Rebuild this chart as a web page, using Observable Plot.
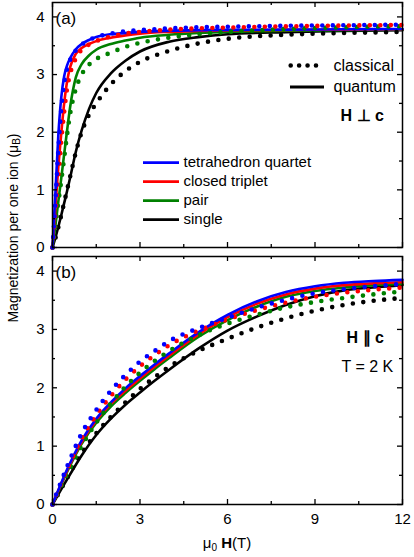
<!DOCTYPE html>
<html>
<head>
<meta charset="utf-8">
<script src="https://cdn.jsdelivr.net/npm/d3@7"></script>
<script src="https://cdn.jsdelivr.net/npm/@observablehq/plot@0.6"></script>
<style>
  html, body { margin: 0; padding: 0; background: #fff; }
  body { font-family: "Liberation Sans", Arial, sans-serif; }
  #wrap { position: relative; width: 414px; height: 557px; overflow: hidden; }
  #wrap svg { display: block; font-family: "Liberation Sans", Arial, sans-serif; }
  #ylab { position: absolute; left: 13px; top: 228px; transform: translate(-50%, -50%) rotate(-90deg);
          white-space: nowrap; font-size: 14px; color: #000; }
  #ylab sub { font-size: 10px; vertical-align: -2px; }
</style>
</head>
<body>
<div id="wrap"><div id="ylab">Magnetization per one ion (μ<sub>B</sub>)</div></div>
<script>
// ---------- data ----------
const seriesNames  = ["tetrahedron quartet", "closed triplet", "pair", "single"];
const seriesColors = ["#0000ff", "#ff0000", "#008000", "#000000"];

// Panel (a): H ⊥ c
const Ha       = [0, 0.1, 0.2, 0.3, 0.4, 0.5, 0.6, 0.8, 1.0, 1.25, 1.5, 2, 2.5, 3, 4, 5, 6, 8, 10, 12];
const aBlueQ   = [0, 0.95, 1.95, 2.6, 2.97, 3.16, 3.28, 3.44, 3.53, 3.6, 3.65, 3.7, 3.72, 3.74, 3.76, 3.77, 3.775, 3.78, 3.785, 3.79];
const aRedQ    = [0, 0.7, 1.4, 1.98, 2.5, 2.88, 3.12, 3.36, 3.46, 3.53, 3.58, 3.64, 3.68, 3.71, 3.74, 3.755, 3.765, 3.775, 3.78, 3.785];
const aGreenQ  = [0, 0.38, 0.8, 1.2, 1.62, 2.03, 2.42, 2.95, 3.18, 3.33, 3.43, 3.53, 3.59, 3.64, 3.69, 3.72, 3.74, 3.76, 3.77, 3.78];
const aBlackQ  = [0, 0.17, 0.36, 0.56, 0.77, 0.98, 1.2, 1.66, 2.03, 2.4, 2.68, 3.02, 3.24, 3.4, 3.57, 3.65, 3.7, 3.735, 3.755, 3.77];
const aBlueC   = [0, 0.8, 1.7, 2.4, 2.85, 3.1, 3.25, 3.42, 3.52, 3.6, 3.65, 3.71, 3.75, 3.77, 3.8, 3.82, 3.83, 3.845, 3.855, 3.865];
const aRedC    = [0, 0.6, 1.25, 1.85, 2.35, 2.75, 3.0, 3.28, 3.43, 3.52, 3.58, 3.66, 3.71, 3.74, 3.78, 3.8, 3.815, 3.835, 3.85, 3.86];
const aGreenC  = [0, 0.38, 0.78, 1.15, 1.55, 1.95, 2.3, 2.75, 3.0, 3.17, 3.27, 3.38, 3.48, 3.55, 3.64, 3.7, 3.74, 3.79, 3.82, 3.84];
const aBlackC  = [0, 0.16, 0.35, 0.56, 0.78, 1.0, 1.22, 1.65, 2.0, 2.3, 2.5, 2.83, 3.06, 3.22, 3.41, 3.54, 3.62, 3.69, 3.72, 3.74];

// Panel (b): H ∥ c, T = 2 K
const Hb       = [0, 0.5, 1, 1.5, 2, 2.5, 3, 3.5, 4, 5, 6, 7, 8, 9, 10, 11, 12];
const bBlueQ   = [0, 0.6, 1.1, 1.47, 1.75, 1.99, 2.2, 2.4, 2.59, 2.95, 3.25, 3.48, 3.64, 3.74, 3.8, 3.83, 3.85];
const bRedQ    = [0, 0.58, 1.07, 1.44, 1.72, 1.95, 2.16, 2.36, 2.55, 2.91, 3.21, 3.44, 3.6, 3.7, 3.76, 3.79, 3.81];
const bGreenQ  = [0, 0.56, 1.04, 1.4, 1.68, 1.91, 2.12, 2.32, 2.51, 2.87, 3.16, 3.39, 3.56, 3.66, 3.72, 3.76, 3.78];
const bBlackQ  = [0, 0.43, 0.84, 1.19, 1.47, 1.71, 1.92, 2.12, 2.31, 2.67, 2.98, 3.22, 3.42, 3.57, 3.67, 3.72, 3.76];
const bBlueC   = [0, 0.65, 1.22, 1.62, 1.95, 2.22, 2.45, 2.63, 2.8, 3.02, 3.2, 3.37, 3.51, 3.62, 3.69, 3.74, 3.78];
const bRedC    = [0, 0.6, 1.13, 1.53, 1.86, 2.14, 2.37, 2.56, 2.73, 2.98, 3.17, 3.33, 3.46, 3.56, 3.63, 3.68, 3.72];
const bGreenC  = [0, 0.52, 1.0, 1.4, 1.73, 2.02, 2.26, 2.46, 2.63, 2.9, 3.1, 3.25, 3.38, 3.47, 3.54, 3.6, 3.65];
const bBlackC  = [0, 0.45, 0.88, 1.22, 1.5, 1.75, 1.98, 2.18, 2.36, 2.63, 2.84, 3.03, 3.19, 3.32, 3.42, 3.49, 3.54];

const xMajorTicks = [0, 3, 6, 9, 12];
const xMinorTicks = [1.5, 4.5, 7.5, 10.5];
const yMajorTicks = [0, 1, 2, 3, 4];
const yMinorTicks = [0.5, 1.5, 2.5, 3.5];
const xTickLabels = ["0", "3", "6", "9", "12"];
const yTickLabels = ["0", "1", "2", "3", "4"];

// ---------- helpers ----------
const W = 414, ML = 52, MR = 12;
const PW = W - ML - MR;
const rows = (H, M) => H.map((h, i) => ({H: h, M: M[i]}));
const font = "Liberation Sans, Arial, sans-serif";

function curveMarks(H, Q, C) {
  const marks = [];
  const order = [3, 2, 1, 0];
  for (const i of order) {
    marks.push(Plot.line(rows(H, Q[i]), {x: "H", y: "M", stroke: seriesColors[i], strokeWidth: 2.6, curve: "monotone-x"}));
  }
  for (const i of order) {
    marks.push(Plot.line(rows(H, C[i]), {x: "H", y: "M", stroke: seriesColors[i], strokeWidth: 4.6,
      strokeDasharray: "0 10.5", strokeLinecap: "round", curve: "monotone-x"}));
  }
  return marks;
}

function tickMarks(plotH) {
  return [
    Plot.tickY(yMajorTicks, {y: d => d, insetRight: PW - 5, strokeWidth: 1.3}),
    Plot.tickY(yMinorTicks, {y: d => d, insetRight: PW - 3, strokeWidth: 1.3}),
    Plot.tickY(yMajorTicks, {y: d => d, insetLeft: PW - 5, strokeWidth: 1.3}),
    Plot.tickY(yMinorTicks, {y: d => d, insetLeft: PW - 3, strokeWidth: 1.3}),
    Plot.tickX(xMajorTicks, {x: d => d, insetTop: plotH - 5, strokeWidth: 1.3}),
    Plot.tickX(xMinorTicks, {x: d => d, insetTop: plotH - 3, strokeWidth: 1.3}),
    Plot.tickX(xMajorTicks, {x: d => d, insetBottom: plotH - 5, strokeWidth: 1.3}),
    Plot.tickX(xMinorTicks, {x: d => d, insetBottom: plotH - 3, strokeWidth: 1.3})
  ];
}

function yLabelAxis() {
  return Plot.axisY(yMajorTicks, {tickSize: 0, tickPadding: 8, fontSize: 15, label: null,
    tickFormat: d => yTickLabels[yMajorTicks.indexOf(d)]});
}

// ---------- panel (a) ----------
const hA = 254, mtA = 2, mbA = 7;
const plotA = Plot.plot({
  width: W, height: hA, marginLeft: ML, marginRight: MR, marginTop: mtA, marginBottom: mbA,
  style: {fontFamily: font, background: "white"},
  x: {domain: [0, 12], axis: null},
  y: {domain: [0, 4.25], label: null},
  marks: [
    ...curveMarks(Ha, [aBlueQ, aRedQ, aGreenQ, aBlackQ], [aBlueC, aRedC, aGreenC, aBlackC]),
    ...tickMarks(hA - mtA - mbA),
    yLabelAxis(),
    Plot.frame({stroke: "black", strokeWidth: 1.5}),
    Plot.text(["(a)"], {frameAnchor: "top-left", dx: 3, dy: 16, textAnchor: "start", lineAnchor: "middle", fontSize: 17}),
    // classical / quantum key
    Plot.text(["classical"], {frameAnchor: "top-left", dx: 281, dy: 63, textAnchor: "start", lineAnchor: "middle", fontSize: 16}),
    Plot.text(["quantum"], {frameAnchor: "top-left", dx: 281, dy: 84, textAnchor: "start", lineAnchor: "middle", fontSize: 16}),
    Plot.text(["H ⊥ c"], {frameAnchor: "top-left", dx: 288, dy: 113, textAnchor: "start", lineAnchor: "middle", fontSize: 16, fontWeight: "bold"}),
    // series key text
    ...seriesNames.map((n, i) => Plot.text([n], {frameAnchor: "top-left", dx: 131, dy: 160 + 19 * i,
      textAnchor: "start", lineAnchor: "middle", fontSize: 15}))
  ]
});

// key symbols drawn in pixel space
(function addKeyA(svg) {
  const g = d3.select(svg).append("g");
  g.append("line").attr("x1", 290.7).attr("x2", 316).attr("y1", 65.5).attr("y2", 65.5)
    .attr("stroke", "black").attr("stroke-width", 4.6).attr("stroke-linecap", "round").attr("stroke-dasharray", "0 8.43");
  g.append("line").attr("x1", 290).attr("x2", 324).attr("y1", 87).attr("y2", 87)
    .attr("stroke", "black").attr("stroke-width", 2.8);
  seriesColors.forEach((c, i) => {
    g.append("line").attr("x1", 143).attr("x2", 179).attr("y1", 162.7 + 19 * i).attr("y2", 162.7 + 19 * i)
      .attr("stroke", c).attr("stroke-width", 2.8);
  });
})(plotA);

// ---------- panel (b) ----------
const hB = 303, mtB = 2, mbB = 53;
const plotB = Plot.plot({
  width: W, height: hB, marginLeft: ML, marginRight: MR, marginTop: mtB, marginBottom: mbB,
  style: {fontFamily: font, background: "white"},
  x: {domain: [0, 12]},
  y: {domain: [0, 4.25], label: null},
  marks: [
    ...curveMarks(Hb, [bBlueQ, bRedQ, bGreenQ, bBlackQ], [bBlueC, bRedC, bGreenC, bBlackC]),
    ...tickMarks(hB - mtB - mbB),
    yLabelAxis(),
    Plot.axisX(xMajorTicks, {tickSize: 0, tickPadding: 9, fontSize: 15, label: null,
      tickFormat: d => xTickLabels[xMajorTicks.indexOf(d)]}),
    Plot.frame({stroke: "black", strokeWidth: 1.5}),
    Plot.text(["(b)"], {frameAnchor: "top-left", dx: 3, dy: 16, textAnchor: "start", lineAnchor: "middle", fontSize: 17}),
    Plot.text(["H ∥ c"], {frameAnchor: "top-left", dx: 294, dy: 81, textAnchor: "start", lineAnchor: "middle", fontSize: 16, fontWeight: "bold"}),
    Plot.text(["T = 2 K"], {frameAnchor: "top-left", dx: 289, dy: 110, textAnchor: "start", lineAnchor: "middle", fontSize: 16})
  ]
});

// x-axis title with rich text
(function addXTitle(svg) {
  const t = d3.select(svg).append("text").attr("x", 227).attr("y", 294).attr("text-anchor", "middle")
    .attr("font-family", font).attr("font-size", 15).attr("fill", "black");
  t.append("tspan").text("μ");
  t.append("tspan").attr("font-size", 10).attr("dy", 3).text("0");
  t.append("tspan").attr("dy", -3).text(" ");
  t.append("tspan").attr("font-weight", "bold").text("H");
  t.append("tspan").text("(T)");
})(plotB);

const wrap = document.getElementById("wrap");
wrap.insertBefore(plotB, wrap.firstChild);
wrap.insertBefore(plotA, wrap.firstChild);
</script>
</body>
</html>
